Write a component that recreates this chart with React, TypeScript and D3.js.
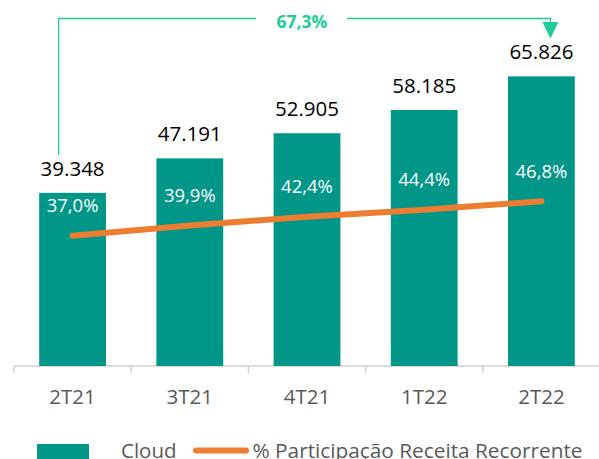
import React from "react";
import * as d3 from "d3";

const categories = ["2T21", "3T21", "4T21", "1T22", "2T22"];
const cloudValues = [39.348, 47.191, 52.905, 58.185, 65.826];
const cloudLabels = ["39.348", "47.191", "52.905", "58.185", "65.826"];
const sharePct = [37.0, 39.9, 42.4, 44.4, 46.8];
const shareLabels = ["37,0%", "39,9%", "42,4%", "44,4%", "46,8%"];
const growthLabel = "67,3%";
const legendBar = "Cloud";
const legendLine = "% Participação Receita Recorrente";

const W = 599;
const H = 459;
const FONT = "'Open Sans', 'Noto Sans', sans-serif";
const TEAL = "#009688";
const GREEN = "#1FCC98";
const ORANGE = "#ED7D31";
const GRAY = "#595959";

export default function App() {
  const x = d3
    .scaleBand<string>()
    .domain(categories)
    .range([14, 600])
    .paddingInner(0.43)
    .paddingOuter(0.215);
  const y = d3.scaleLinear().domain([0, 80]).range([366, 14]);
  const y2 = d3.scaleLinear().domain([0, 100]).range([366, 14]);
  const step = x.step();
  const bw = x.bandwidth();
  const cx = (c: string) => (x(c) as number) + bw / 2;

  const line = d3
    .line<number>()
    .x((_, i) => cx(categories[i]))
    .y((d) => y2(d));

  const boundaries = categories.map((c) => (x(c) as number) - step * 0.215);

  const firstX = cx(categories[0]) - 14;
  const lastX = cx(categories[categories.length - 1]) + 9;
  const bracketY = 18.5;

  return (
    <svg
      width={W}
      height={H}
      style={{ position: "absolute", left: 0, top: 0, background: "#fff" }}
      fontFamily={FONT}
    >
      {/* axis */}
      <line x1={14} x2={599} y1={366} y2={366} stroke="#D0D0D0" strokeWidth={1.5} />
      {boundaries.map((b, i) => (
        <line key={i} x1={b} x2={b} y1={366} y2={373} stroke="#D0D0D0" strokeWidth={1.5} />
      ))}

      {/* bars */}
      {categories.map((c, i) => (
        <rect
          key={c}
          x={x(c)}
          y={y(cloudValues[i])}
          width={bw}
          height={y(0) - y(cloudValues[i])}
          fill={TEAL}
        />
      ))}

      {/* value labels */}
      {categories.map((c, i) => (
        <text
          key={c}
          x={cx(c)}
          y={y(cloudValues[i]) - 17}
          textAnchor="middle"
          fontSize={20.5}
          fill="#000"
        >
          {cloudLabels[i]}
        </text>
      ))}

      {/* percentage labels above line points */}
      {categories.map((c, i) => (
        <text
          key={c}
          x={cx(c)}
          y={y2(sharePct[i]) - 23.5}
          textAnchor="middle"
          fontSize={18.5}
          fill="#fff"
        >
          {shareLabels[i]}
        </text>
      ))}

      {/* line */}
      <path
        d={line(sharePct) || ""}
        fill="none"
        stroke={ORANGE}
        strokeWidth={6}
        strokeLinecap="round"
        strokeLinejoin="round"
      />

      {/* category labels */}
      {categories.map((c) => (
        <text key={c} x={cx(c)} y={404} textAnchor="middle" fontSize={20.5} fill={GRAY}>
          {c}
        </text>
      ))}

      {/* growth bracket */}
      <path
        d={`M${firstX},155 V${bracketY} H256 M347,${bracketY} H${lastX} V22`}
        fill="none"
        stroke={GREEN}
        strokeWidth={1.3}
      />
      <path
        d={`M${lastX - 8},22 L${lastX + 8},22 L${lastX},38.5 Z`}
        fill={GREEN}
      />
      <text x={302} y={27.5} textAnchor="middle" fontSize={17.5} fontWeight="bold" fill={GREEN}>
        {growthLabel}
      </text>

      {/* legend */}
      <rect x={37} y={444} width={52} height={18} fill={TEAL} />
      <text x={121} y={457.5} fontSize={20.5} fill={GRAY}>
        {legendBar}
      </text>
      <line x1={196} x2={246} y1={450.5} y2={450.5} stroke={ORANGE} strokeWidth={6} strokeLinecap="round" />
      <text x={252.5} y={457.5} fontSize={20.8} fill={GRAY}>
        {legendLine}
      </text>
    </svg>
  );
}
